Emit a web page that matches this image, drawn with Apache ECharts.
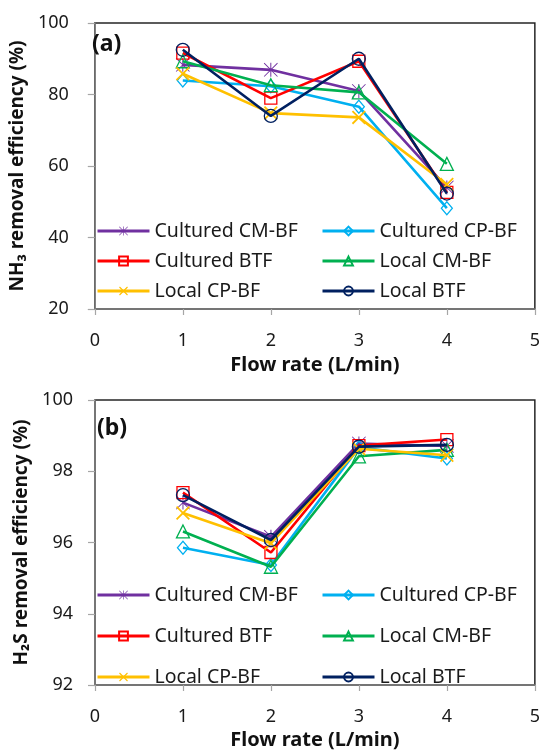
<!DOCTYPE html>
<html>
<head>
<meta charset="utf-8" />
<title>NH3 / H2S removal efficiency</title>
<style>
  html, body { margin: 0; padding: 0; background: #fff; }
  #main { width: 543px; height: 751px; }
</style>
</head>
<body>
<div id="main"></div>
<script src="https://cdn.jsdelivr.net/npm/echarts@6/dist/echarts.min.js"></script>
<script>
// flow rate (L/min)
const flowRate = [1, 2, 3, 4];

// (a) NH3 removal efficiency (%)
const nh3CulturedCMBF = [88.3, 86.9, 81.0, 54.0];
const nh3CulturedCPBF = [83.9, 82.3, 76.6, 48.2];
const nh3CulturedBTF = [91.6, 79.0, 89.3, 52.6];
const nh3LocalCMBF = [89.3, 82.6, 80.6, 60.6];
const nh3LocalCPBF = [85.8, 74.8, 73.6, 54.8];
const nh3LocalBTF = [92.5, 74.0, 90.0, 52.3];

// (b) H2S removal efficiency (%)
const h2sCulturedCMBF = [97.12, 96.16, 98.78, 98.71];
const h2sCulturedCPBF = [95.85, 95.37, 98.67, 98.36];
const h2sCulturedBTF = [97.40, 95.72, 98.72, 98.89];
const h2sLocalCMBF = [96.31, 95.32, 98.42, 98.60];
const h2sLocalCPBF = [96.83, 95.98, 98.63, 98.45];
const h2sLocalBTF = [97.33, 96.07, 98.69, 98.74];

const names = ['Cultured CM-BF', 'Cultured CP-BF', 'Cultured BTF', 'Local CM-BF', 'Local CP-BF', 'Local BTF'];
const colors = ['#7030A0', '#00B0F0', '#FF0000', '#00B050', '#FFC000', '#002060'];

const FONT = 'Noto Sans';
const starPath = 'path://M9.3,0H10.7V20H9.3Z M0.9,0L20,19.1L19.1,20L0,0.9Z M19.1,0L20,0.9L0.9,20L0,19.1Z';
const crossPath = 'path://M0,1.8L1.8,0L20,18.2L18.2,20Z M18.2,0L20,1.8L1.8,20L0,18.2Z';

// marker per series: [symbol, size, filled]
const markers = [
  [starPath, 14, true],
  ['diamond', [11, 13], false],
  ['rect', 12, false],
  ['triangle', 13, false],
  [crossPath, 14, true],
  ['circle', 13, false]
];

function makeSeries(datasets, gridIdx) {
  return datasets.map((vals, i) => {
    const c = colors[i];
    const m = markers[i];
    return {
      name: names[i],
      type: 'line',
      xAxisIndex: gridIdx,
      yAxisIndex: gridIdx,
      data: flowRate.map((x, j) => [x, vals[j]]),
      symbol: m[0],
      symbolSize: m[1],
      lineStyle: { color: c, width: 2.6 },
      itemStyle: m[2]
        ? { color: c, borderWidth: 0 }
        : { color: 'rgba(255,255,255,0)', borderColor: c, borderWidth: 1.3 },
      emphasis: { disabled: true },
      animation: false,
      z: 2 + i
    };
  });
}

function makeLegends(top, gap) {
  const base = {
    orient: 'vertical',
    top: top,
    padding: 0,
    itemWidth: 52,
    itemHeight: 11,
    itemGap: gap,
    selectedMode: false,
    lineStyle: { width: 3 },
    textStyle: { fontFamily: FONT, fontSize: 19.5, color: '#1a1a1a', lineHeight: 20 }
  };
  return [
    Object.assign({}, base, { left: 96, data: [names[0], names[2], names[4]] }),
    Object.assign({}, base, { left: 321, data: [names[1], names[3], names[5]] })
  ];
}

function xAxisOf(gridIdx, nameGap) {
  return {
    type: 'value',
    gridIndex: gridIdx,
    min: 0, max: 5, interval: 1,
    name: 'Flow rate (L/min)',
    nameLocation: 'middle',
    nameGap: nameGap,
    nameTextStyle: { fontFamily: FONT, fontSize: 20, fontWeight: 'bold', color: '#111' },
    axisLine: { show: true, lineStyle: { color: '#7f7f7f', width: 1.5 } },
    axisTick: { show: true, length: 6, lineStyle: { color: '#a6a6a6', width: 1.2 } },
    axisLabel: { fontFamily: FONT, fontSize: 18, color: '#1a1a1a', margin: 23 },
    splitLine: { show: false }
  };
}

function yAxisOf(gridIdx, min, max, interval, name, nameGap, margin) {
  return {
    type: 'value',
    gridIndex: gridIdx,
    min: min, max: max, interval: interval,
    name: name,
    nameLocation: 'middle',
    nameGap: nameGap,
    nameTextStyle: { fontFamily: FONT, fontSize: 19, fontWeight: 'bold', color: '#111' },
    axisLine: { show: true, lineStyle: { color: '#7f7f7f', width: 1.5 } },
    axisTick: { show: true, length: 7, lineStyle: { color: '#a6a6a6', width: 1.2 } },
    axisLabel: { fontFamily: FONT, fontSize: 18, color: '#1a1a1a', margin: margin },
    splitLine: { show: false }
  };
}

const chart = echarts.init(document.getElementById('main'), null, { renderer: 'canvas' });
chart.setOption({
  backgroundColor: '#fff',
  animation: false,
  title: [
    { text: '(a)', left: 92, top: 33, padding: 0,
      textStyle: { fontFamily: FONT, fontSize: 23, fontWeight: 'bold', color: '#111' } },
    { text: '(b)', left: 97, top: 417, padding: 0,
      textStyle: { fontFamily: FONT, fontSize: 23, fontWeight: 'bold', color: '#111' } }
  ],
  legend: makeLegends(221, 10).concat(makeLegends(585, 21)),
  grid: [
    { left: 90, top: 23, width: 447, height: 286, show: true, borderColor: '#262626', borderWidth: 1.5, backgroundColor: 'transparent' },
    { left: 95, top: 400, width: 442, height: 289, show: true, borderColor: '#262626', borderWidth: 1.5, backgroundColor: 'transparent' }
  ],
  xAxis: [xAxisOf(0, 46), xAxisOf(1, 45)],
  yAxis: [
    yAxisOf(0, 20, 100, 20, 'NH₃ removal efficiency (%)', 52, 26),
    yAxisOf(1, 92, 100, 2, 'H₂S removal efficiency (%)', 57, 22)
  ],
  series: makeSeries([nh3CulturedCMBF, nh3CulturedCPBF, nh3CulturedBTF, nh3LocalCMBF, nh3LocalCPBF, nh3LocalBTF], 0)
    .concat(makeSeries([h2sCulturedCMBF, h2sCulturedCPBF, h2sCulturedBTF, h2sLocalCMBF, h2sLocalCPBF, h2sLocalBTF], 1))
});
</script>
</body>
</html>
